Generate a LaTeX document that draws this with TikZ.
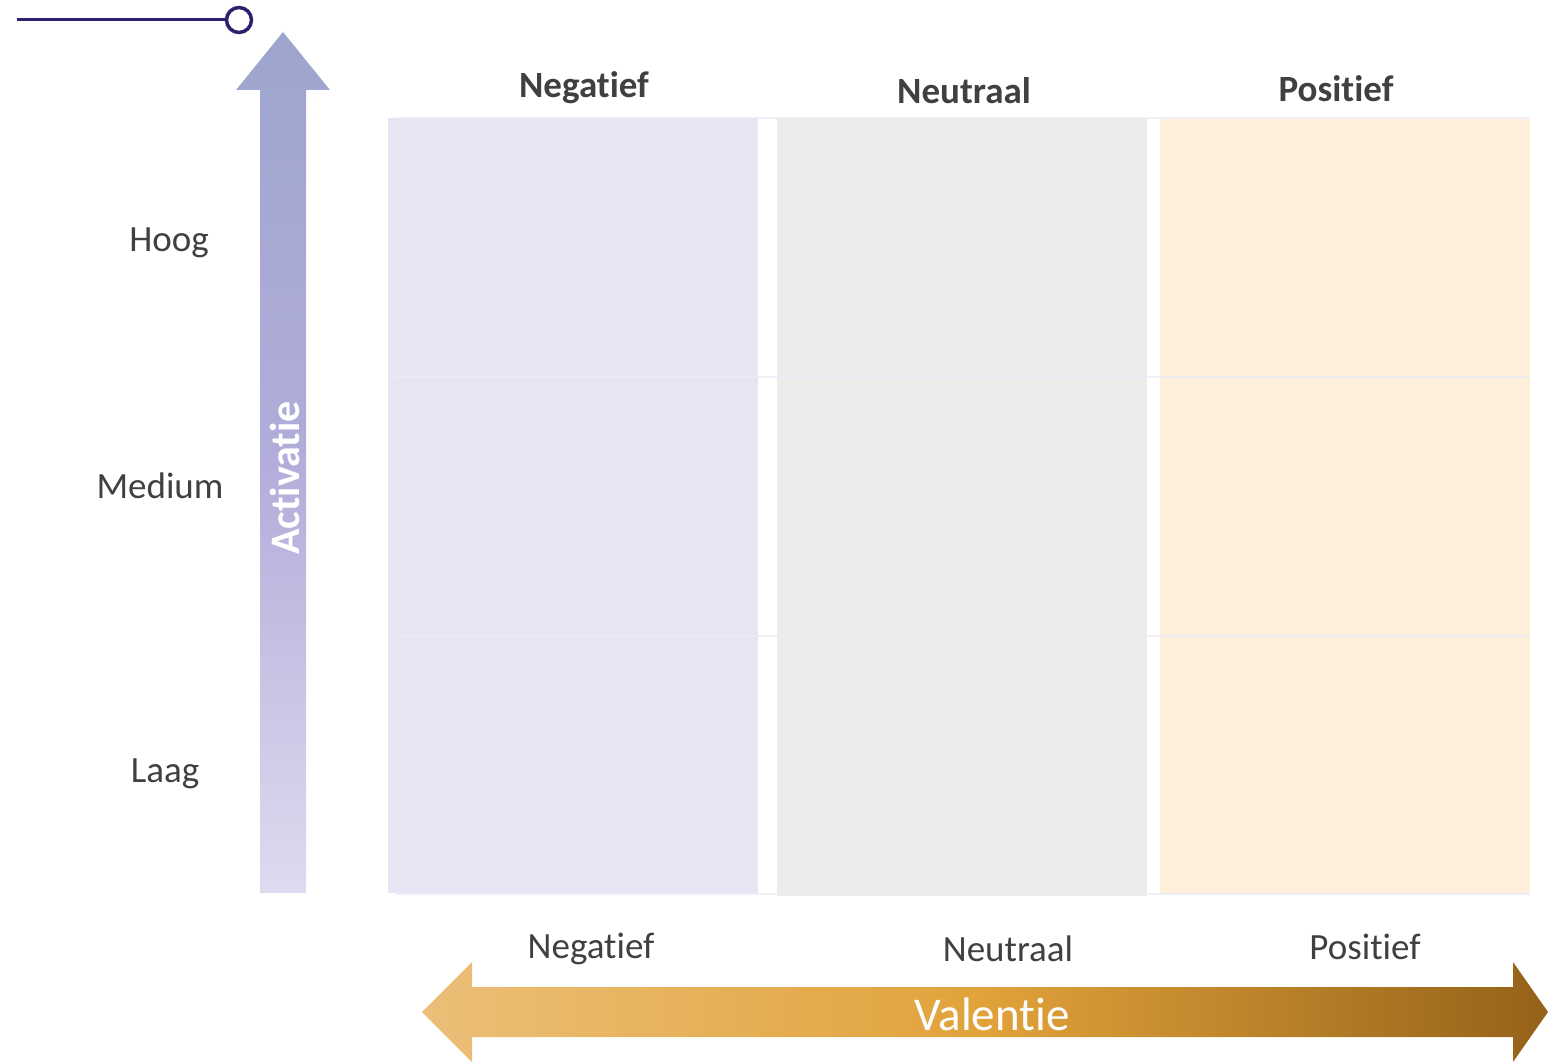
\documentclass[tikz,border=0pt]{standalone}
\usepackage{fontspec}
\setmainfont[Ligatures={NoCommon,NoContextual}]{Carlito}
\newcommand\tIi{t\kern0pt i}
\begin{document}
\begin{tikzpicture}[x=1pt,y=-1pt,
  lbl/.style={text=black!75, font=\fontsize{37}{41}\selectfont, inner sep=0pt, anchor=base},
  hdr/.style={lbl, font=\fontsize{37}{41}\selectfont\bfseries},
  sep/.style={draw=lavsep, line width=1.5pt}]
\definecolor{navy}{HTML}{2B2370}
\definecolor{lavcol}{HTML}{E6E5F3}
\definecolor{greycol}{HTML}{EBEBEB}
\definecolor{peachcol}{HTML}{FEEFDA}
\definecolor{lavsep}{HTML}{ECEBF6}
\definecolor{arrtop}{HTML}{9CA5CD}
\definecolor{arrmid}{HTML}{B2ADDA}
\definecolor{arrbot}{HTML}{DDDBEF}
\definecolor{gl}{HTML}{EBBF78}
\definecolor{gm}{HTML}{E1A23A}
\definecolor{gr}{HTML}{946219}
\useasboundingbox (0,0) rectangle (1548,1062);
% slider
\coordinate (ls) at (17,20);
\node[circle, draw=navy, line width=3.5pt, fill=white, minimum size=25pt, inner sep=0pt] (knob) at (239,20) {};
\draw[navy, line width=3pt] (ls) -- (knob.west);
% columns
\fill[lavcol] (388,118) rectangle (758,893);
\fill[greycol] (777,118) rectangle (1147,896);
\fill[peachcol] (1160,118) rectangle (1530,894);
\foreach \yy in {118,377,636,894} \draw[sep, opacity=0.8] (395,\yy) -- (1530,\yy);
% vertical arrow
\shade[top color=arrtop, bottom color=arrbot, middle color=arrmid]
  (260,893) -- (260,90) -- (236,90) -- (283,32) -- (330,90) -- (306,90) -- (306,893) -- cycle;
\node[rotate=90, text=white, font=\fontsize{42}{46}\selectfont\bfseries, inner sep=0pt] (act) at (285,478) {Activa\tIi e};
% horizontal arrow
\shade[left color=gl, right color=gr, middle color=gm]
  (422,1012) -- (472,962) -- (472,987) -- (1513,987) -- (1513,962) -- (1548,1012) -- (1513,1062) -- (1513,1037) -- (472,1037) -- (472,1062) -- cycle;
\node[text=white, font=\fontsize{47}{51}\selectfont, inner sep=0pt] (val) at (992,1014) {Valen\tIi e};
% headers
\node[hdr] (h1) at (584,98) {Nega\tIi ef};
\node[hdr] (h2) at (964,104) {Neutraal};
\node[hdr] (h3) at (1336,102) {Posi\tIi ef};
% bottom labels
\node[lbl] (b1) at (591,958) {Nega\tIi ef};
\node[lbl] (b2) at (1008,961) {Neutraal};
\node[lbl] (b3) at (1365,959) {Posi\tIi ef};
% side labels
\node[lbl] (s1) at (169,251) {Hoog};
\node[lbl] (s2) at (160,498) {Medium};
\node[lbl] (s3) at (165,782) {Laag};
\end{tikzpicture}
\end{document}
